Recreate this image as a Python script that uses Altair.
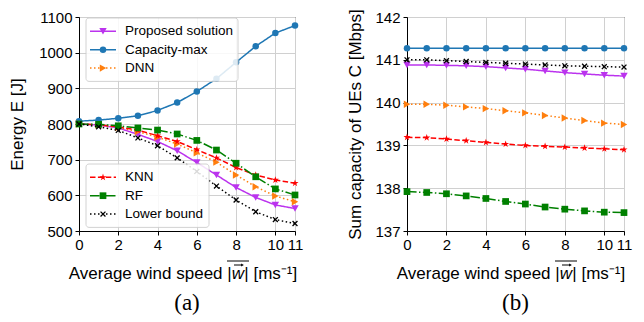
import altair as alt
import pandas as pd

# ---------------- data ----------------
wind = [0, 1, 2, 3, 4, 5, 6, 7, 8, 9, 10, 11]
series_names = ["Proposed solution", "Capacity-max", "DNN", "KNN", "RF", "Lower bound"]

# (a) energy [J]
energy_proposed = [800, 797, 789, 771, 751, 725, 692, 657, 622, 594, 573, 563]
energy_capacity = [808, 811, 816, 823, 838, 860, 891, 927, 973, 1018, 1055, 1076]
energy_dnn = [800, 797, 790, 779, 763, 744, 719, 693, 657, 624, 598, 582]
energy_knn = [800, 798, 792, 783, 767, 751, 728, 705, 678, 657, 643, 634]
energy_rf = [800, 799, 795, 789, 783, 772, 754, 727, 690, 652, 618, 601]
energy_lower = [800, 792, 782, 761, 739, 705, 667, 626, 587, 554, 532, 521]

# (b) sum capacity [Mbps]
cap_proposed = [140.88, 140.88, 140.87, 140.86, 140.84, 140.81, 140.78, 140.74, 140.70, 140.67, 140.64, 140.62]
cap_capacity = [141.27, 141.27, 141.27, 141.27, 141.27, 141.27, 141.27, 141.27, 141.27, 141.27, 141.27, 141.27]
cap_dnn = [139.96, 139.96, 139.94, 139.90, 139.86, 139.81, 139.76, 139.70, 139.64, 139.58, 139.52, 139.49]
cap_knn = [139.19, 139.18, 139.15, 139.11, 139.07, 139.03, 139.00, 138.98, 138.96, 138.94, 138.92, 138.90]
cap_rf = [137.92, 137.90, 137.87, 137.82, 137.76, 137.69, 137.63, 137.56, 137.51, 137.47, 137.44, 137.43]
cap_lower = [141.00, 141.00, 140.98, 140.96, 140.94, 140.92, 140.90, 140.88, 140.86, 140.85, 140.84, 140.83]

x_ticks = [0, 2, 4, 6, 8, 10, 11]
energy_ticks = [500, 600, 700, 800, 900, 1000, 1100]
cap_ticks = [137, 138, 139, 140, 141, 142]

STAR = "M0,-1L0.2245,-0.309L0.951,-0.309L0.363,0.118L0.588,0.809L0,0.382L-0.588,0.809L-0.363,0.118L-0.951,-0.309L-0.2245,-0.309Z"
XMARK = "M-1,-1L1,1M-1,1L1,-1"

styles = {
    "Proposed solution": dict(color="#bb33ee", dash=[1, 0], shape="triangle-down", filled=True, size=55),
    "Capacity-max": dict(color="#1f77b4", dash=[1, 0], shape="circle", filled=True, size=42),
    "DNN": dict(color="#ff7f0e", dash=[1.5, 2.5], shape="triangle-right", filled=True, size=55),
    "KNN": dict(color="#ff0000", dash=[5.5, 2.4], shape=STAR, filled=True, size=55),
    "RF": dict(color="#008000", dash=[9.6, 2.4, 1.5, 2.4], shape="square", filled=True, size=45),
    "Lower bound": dict(color="#000000", dash=[1.5, 2.5], shape=XMARK, filled=False, size=24),
}

W, H = 216, 214
SANS = "Liberation Sans"
TITLE_FS = 17


def build_df(vals):
    rows = []
    for name, ys in zip(series_names, vals):
        for xv, yv in zip(wind, ys):
            rows.append({"wind": xv, "value": yv, "series": name})
    return pd.DataFrame(rows)


def series_layers(df, name, yscale, yaxis):
    st = styles[name]
    base = alt.Chart(df[df.series == name])
    enc = dict(
        x=alt.X("wind:Q", scale=alt.Scale(domain=[0, 11], nice=False),
                axis=alt.Axis(values=x_ticks, title=None, labelOverlap=False, labelFlush=False,
                              labelPadding=2)),
        y=alt.Y("value:Q", scale=yscale, axis=yaxis),
    )
    line = base.mark_line(color=st["color"], strokeDash=st["dash"], strokeWidth=1.5).encode(**enc)
    pts = base.mark_point(shape=st["shape"], filled=st["filled"], color=st["color"],
                          size=st["size"], opacity=1, strokeWidth=1.3).encode(**enc)
    return [line, pts]


dummy = pd.DataFrame({"d": [0]})


def legend_layers(names, x0, y0, box_w):
    row_h = 18.4
    layers = []
    box = alt.Chart(dummy).mark_rect(fill="white", stroke="#cccccc", strokeWidth=1,
                                     cornerRadius=3, opacity=0.85).encode(
        x=alt.value(x0), x2=alt.value(x0 + box_w),
        y=alt.value(y0), y2=alt.value(y0 + 26.6 + row_h * (len(names) - 1)))
    layers.append(box)
    for i, name in enumerate(names):
        st = styles[name]
        yy = y0 + 13.3 + i * row_h
        layers.append(alt.Chart(dummy).mark_rule(color=st["color"], strokeDash=st["dash"],
                                                 strokeWidth=1.5).encode(
            x=alt.value(x0 + 4), x2=alt.value(x0 + 30), y=alt.value(yy)))
        layers.append(alt.Chart(dummy).mark_point(shape=st["shape"], filled=st["filled"],
                                                  color=st["color"], size=st["size"],
                                                  opacity=1, strokeWidth=1.3).encode(
            x=alt.value(x0 + 17), y=alt.value(yy)))
        layers.append(alt.Chart(dummy).mark_text(text=name, align="left", baseline="middle",
                                                 font=SANS, fontSize=13.5,
                                                 color="black").encode(
            x=alt.value(x0 + 39), y=alt.value(yy)))
    return layers


def xtitle_layers():
    xw = 159          # centre of the "w" glyph
    yt = H + 43       # title text centre
    half = 6.3
    common = dict(baseline="middle", font=SANS, fontSize=TITLE_FS, color="black")
    return [
        alt.Chart(dummy).mark_text(text="Average wind speed |", align="right", **common).encode(
            x=alt.value(xw - half), y=alt.value(yt)),
        alt.Chart(dummy).mark_text(text="w", align="center", fontStyle="italic", **common).encode(
            x=alt.value(xw), y=alt.value(yt)),
        alt.Chart(dummy).mark_text(text="| [ms\u207b\u00b9]", align="left", **common).encode(
            x=alt.value(xw + half), y=alt.value(yt)),
        # vector arrow above w
        alt.Chart(dummy).mark_rule(color="black", strokeWidth=1).encode(
            x=alt.value(xw - 4), x2=alt.value(xw + 4), y=alt.value(yt - 9)),
        alt.Chart(dummy).mark_point(shape="triangle-right", filled=True, color="black",
                                    size=10, opacity=1).encode(
            x=alt.value(xw + 4.5), y=alt.value(yt - 9)),
        # overline
        alt.Chart(dummy).mark_rule(color="black", strokeWidth=1).encode(
            x=alt.value(xw - 11), x2=alt.value(xw + 11), y=alt.value(yt - 13)),
    ]


caption = dict(orient="bottom", font="Liberation Serif", fontSize=23, fontWeight="normal",
               color="black", offset=10)

# ---------------- panel (a) ----------------
df_a = build_df([energy_proposed, energy_capacity, energy_dnn, energy_knn, energy_rf, energy_lower])
ys_a = alt.Scale(domain=[500, 1100], nice=False)
ya_axis = alt.Axis(values=energy_ticks, title="Energy E [J]", format="d", titlePadding=12)
layers_a = []
for n in series_names:
    layers_a += series_layers(df_a, n, ys_a, ya_axis)
layers_a += legend_layers(["Proposed solution", "Capacity-max", "DNN"], 7, 1, 152)
layers_a += legend_layers(["KNN", "RF", "Lower bound"], 7, 147, 123)
layers_a += xtitle_layers()
chart_a = alt.layer(*layers_a).properties(
    width=W, height=H, title=alt.TitleParams("(a)", **caption))

# ---------------- panel (b) ----------------
df_b = build_df([cap_proposed, cap_capacity, cap_dnn, cap_knn, cap_rf, cap_lower])
ys_b = alt.Scale(domain=[137, 142], nice=False)
yb_axis = alt.Axis(values=cap_ticks, title="Sum capacity of UEs C [Mbps]", format="d", titlePadding=10)
layers_b = []
for n in ["RF", "KNN", "DNN", "Proposed solution", "Lower bound", "Capacity-max"]:
    layers_b += series_layers(df_b, n, ys_b, yb_axis)
layers_b += xtitle_layers()
chart_b = alt.layer(*layers_b).properties(
    width=W + 1, height=H, title=alt.TitleParams("(b)", **caption))

chart = alt.hconcat(chart_a, chart_b, spacing=42).properties(padding=0).configure_axis(
    labelFont=SANS, labelFontSize=15, labelColor="black",
    titleFont=SANS, titleFontSize=TITLE_FS, titleFontWeight="normal", titleColor="black",
    domainColor="black", tickColor="black", tickSize=4, gridColor="#d0d0d0", gridWidth=1,
    labelPadding=3,
).configure_view(stroke="black", strokeWidth=1)

chart.save("out.html", embed_options={"renderer": "svg", "actions": False})
